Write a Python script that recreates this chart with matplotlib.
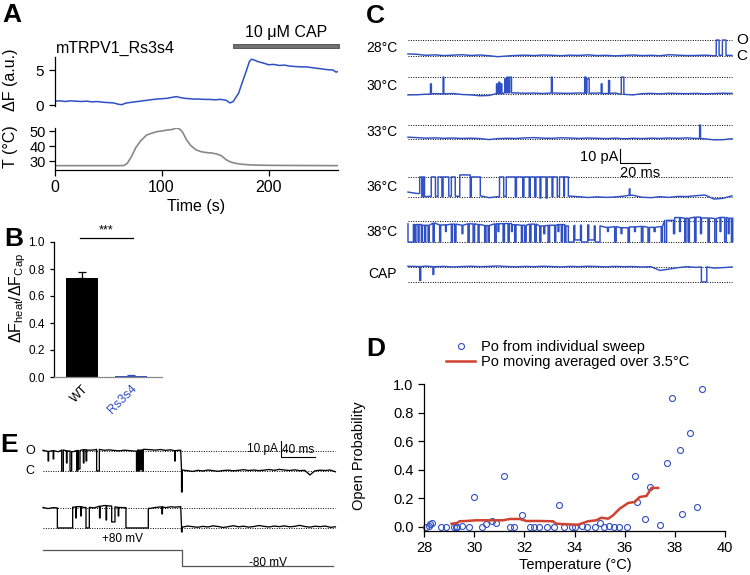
import numpy as np
import matplotlib
matplotlib.use('Agg')
import matplotlib.pyplot as plt
from matplotlib.patches import Rectangle

plt.rcParams['font.family'] = ['Liberation Sans', 'DejaVu Sans']
plt.rcParams['axes.linewidth'] = 0.9

BLUE = '#2f4fc4'
RED = '#d0412f'

# ---------------- data ----------------
# A: Ca imaging (dF) and bath temperature
t_df = [0, 5, 10, 15, 20, 25, 30, 35, 40, 45, 50, 55, 60, 63, 66, 70, 75, 80, 85, 90,
        95, 100, 105, 110, 114, 118, 122, 126, 130, 135, 140, 145, 150, 155, 160, 164,
        167, 169, 172, 176, 179, 182, 184, 187, 190, 195, 200, 205, 210, 215, 220, 225,
        230, 235, 240, 245, 250, 255, 260, 263, 265]
dF = [0.55, 0.6, 0.5, 0.6, 0.55, 0.5, 0.55, 0.45, 0.5, 0.4, 0.35, 0.3, 0.1, 0.05, 0.25,
      0.35, 0.45, 0.55, 0.65, 0.75, 0.85, 0.9, 0.95, 1.1, 1.2, 1.05, 0.95, 0.9, 0.85, 0.85,
      0.8, 0.8, 0.75, 0.8, 0.7, 0.3, 0.5, 1.0, 1.7, 3.5, 4.8, 6.2, 6.55, 6.4, 6.2, 6.0,
      5.75, 5.8, 5.65, 5.7, 5.55, 5.5, 5.45, 5.45, 5.35, 5.25, 5.15, 5.05, 5.0, 4.7, 4.8]
t_temp = [0, 60, 65, 68, 72, 76, 80, 86, 90, 95, 100, 105, 110, 114, 117, 120, 123, 127,
          132, 137, 142, 147, 152, 156, 160, 164, 168, 175, 186, 200, 230, 265]
temp = [26.9, 26.9, 27.0, 28.5, 33.0, 39.0, 43.0, 47.3, 48.3, 49.5, 50.0, 50.6, 51.0,
        52.0, 51.3, 48.8, 44.5, 40.5, 37.5, 36.2, 35.6, 35.3, 34.6, 33.5, 31.0, 29.5,
        28.6, 27.8, 27.3, 27.1, 27.0, 26.9]

# B: dF_heat / dF_cap
b_groups = ['WT', 'Rs3s4']
b_mean = [0.735, 0.008]
b_sem = [0.04, 0.004]

# C: single channel traces (pA), rows 28/30/33/36/38 C and capsaicin
c_labels = ['28°C', '30°C', '33°C', '36°C', '38°C', 'CAP']
c_amp = [11.4, 12.1, 10.0, 14.3, 15.0, 10.7]
c_rest = [0, 0, 0, 0, 1, 1]      # 0 = resting closed, 1 = resting open
wt_c = np.arange(0, 217, 6)      # baseline samples, ms
wig_28 = [1.5, 1.2, 0.5, 0.8, 0.3, 0.6, 0.9, 0.4, 0.7, 0.2, -0.5, 0.0, 0.4, 0.6, 0.3, 0.7,
          0.5, 0.2, 0.6, 0.4, 0.8, 0.3, 0.5, 0.1, 0.4, 0.7, 0.3, 0.5, 0.2, 0.9, 0.6, 0.3,
          0.4, 0.6, 0.2, 0.5, 0.4]
wig_30 = [-0.6, -0.5, -0.1, 0.3, 0.2, 0.4, -0.3, -0.6, -1.2, -1.0, 0.3, 0.9, 0.8, 0.6,
          0.7, 0.4, 0.8, 0.6, 0.5, 0.8, 0.6, 0.7, 0.4, 0.8, -0.2, -0.6, 0.3, 0.5, 0.2, 0.6,
          0.4, 0.3, 0.5, 0.2, 0.4, 0.6, 0.5]
wig_33 = [1.3, 1.0, 0.6, 0.8, 0.5, 0.7, 0.4, 0.6, 0.3, -0.4, 0.3, 0.5, 0.4, 0.8, 1.0, 0.6,
          0.5, 0.9, 0.7, 0.4, 0.7, 0.5, 0.3, 0.6, 0.2, 0.5, 0.3, 0.6, 0.4, 0.7, 0.5, 0.8,
          0.4, 0.1, -0.6, -0.5, 0.2]
wig_36 = [3.5, 2.5, 0.3, 0.5, 0.2, 0.6, 0.4, 0.0, 0.8, -0.5, 0.2, 0.5, 0.3, 0.0, 0.2,
          -0.8, 0.3, 0.5, 0.6, 0.2, -0.4, 0.1, -0.3, 0.0, 0.6, 1.2, -0.2, -0.5, 0.2, -0.3,
          0.4, 0.3, 0.9, 1.4, -1.5, -1.0, 0.8]
wig_38 = [-2.0, -2.5, -3.0, -1.5, -2.8, -2.2, -3.0, -2.0, -2.5, -3.2, -2.0, -1.8, -2.6,
          -3.0, -2.2, -3.5, -3.0, -2.5, -3.5, -3.0, -2.8, -3.5, -4.5, -4.0, -4.8, -4.2,
          -3.8, -4.5, -4.0, 0.5, 2.5, 2.0, 2.8, 2.2, 1.8, 2.6, 2.0]
wig_cap = [0.5, 0.3, 0.6, 0.2, 0.4, 0.0, 0.3, 0.5, 0.2, 0.4, 0.7, 0.3, 0.1, 0.4, 0.2, 0.5,
           0.3, 0.0, 0.4, 0.2, 0.5, 0.3, 0.1, 0.4, 0.2, 0.3, 0.0, 0.2, -2.5, -1.5, -0.5,
           0.2, -0.3, 0.0, -0.8, -0.5, 0.0]
# events: (start ms, end ms, level as fraction of unitary amplitude)
ev_28 = [(205.5, 207.4, 1.0), (209.6, 212.0, 1.0)]
ev_30 = [(15.0, 15.6, 0.6), (23.4, 23.9, 1.0), (59.0, 59.6, 0.6), (60.5, 61.2, 0.7),
         (62.0, 62.6, 0.6), (64.5, 65.3, 0.9), (66.0, 66.8, 1.0), (67.8, 69.0, 1.0),
         (95.6, 96.2, 1.0), (117.8, 118.6, 1.0), (119.3, 120.8, 0.9), (128.8, 129.4, 0.6),
         (133.7, 134.4, 0.8), (142.2, 143.9, 1.0)]
ev_33 = [(194.4, 195.0, 1.0)]
ev_36 = [(7.8, 9.2, 1.0), (10.0, 11.0, 1.0), (15.5, 18.3, 1.0), (20.0, 22.6, 1.0),
         (23.4, 27.2, 1.0), (28.9, 31.5, 1.0), (34.5, 41.5, 1.1), (42.2, 48.2, 1.0),
         (61.0, 63.8, 1.0), (65.5, 71.5, 1.0), (72.3, 76.5, 1.0), (77.3, 80.8, 1.0),
         (81.5, 84.5, 1.0), (85.3, 88.0, 1.0), (88.6, 92.0, 1.0), (92.8, 96.0, 1.0),
         (96.6, 99.5, 1.0), (101.0, 103.8, 1.0), (104.3, 106.9, 1.0), (147.5, 148.0, 0.4)]
ev_38 = [(0, 3.6, 0.0), (4.5, 5.3, 0.0), (6.7, 7.4, 0.0), (8.9, 9.6, 0.0), (11.1, 11.8, 0.0),
         (13.4, 14.2, 0.0), (16.7, 17.5, 0.0), (21.1, 21.8, 0.0), (25.0, 25.5, 0.5),
         (28.9, 29.6, 0.0), (31.1, 32.0, 0.0), (36.0, 36.6, 0.4), (40.0, 40.8, 0.0),
         (43.4, 44.4, 0.0), (46.7, 47.4, 0.0), (51.1, 52.0, 0.0), (53.4, 54.2, 0.0),
         (57.8, 58.8, 0.0), (60.0, 60.6, 0.5), (63.4, 64.3, 0.0), (66.7, 67.5, 0.0),
         (69.0, 69.5, 0.5), (71.1, 72.0, 0.0), (75.6, 76.3, 0.0), (77.8, 78.8, 0.0),
         (81.1, 82.0, 0.0), (84.5, 85.5, 0.0), (87.8, 88.6, 0.0), (90.5, 91.2, 0.4),
         (93.4, 94.4, 0.0), (97.8, 98.5, 0.0), (100.0, 100.6, 0.5), (102.2, 103.0, 0.0),
         (104.5, 105.3, 0.0), (106.9, 110.5, 0.0), (111.2, 115.0, 0.1), (115.6, 119.8, 0.0),
         (120.5, 124.2, 0.1), (124.8, 128.0, 0.0), (133.0, 133.6, 0.5), (137.8, 138.8, 0.0),
         (142.0, 142.6, 0.4), (146.7, 147.6, 0.0), (151.0, 151.6, 0.5), (155.6, 156.6, 0.0),
         (160.0, 161.0, 0.0), (164.0, 164.8, 0.5), (168.8, 169.6, 0.0), (171.1, 172.4, 0.0),
         (177.0, 177.8, 0.4), (181.0, 181.6, 0.5), (184.5, 185.3, 0.0), (186.7, 187.6, 0.0),
         (191.1, 192.0, 0.0), (195.0, 195.7, 0.4), (200.0, 200.9, 0.0), (204.5, 205.6, 0.0),
         (208.0, 208.6, 0.5), (211.1, 212.2, 0.0), (213.5, 214.1, 0.4), (215.6, 216.5, 0.0)]
ev_cap = [(7.8, 8.5, 0.1), (16.6, 17.2, 0.5), (195.6, 199.2, 0.0)]

# D: open probability vs temperature
d_temp = [28.09, 28.2, 28.25, 28.32, 28.69, 28.89, 29.18, 29.26, 29.32, 29.5, 29.8, 30.0,
          30.31, 30.49, 30.7, 30.88, 31.2, 31.42, 31.59, 31.9, 32.21, 32.4, 32.59, 32.9,
          33.2, 33.4, 33.6, 33.91, 34.02, 34.3, 34.5, 34.8, 35.0, 35.16, 35.38, 35.57,
          35.77, 36.1, 36.4, 36.5, 36.8, 37.0, 37.4, 37.7, 37.9, 38.2, 38.3, 38.6, 38.9, 39.1]
d_po = [0.0, 0.01, 0.02, 0.03, 0.0, 0.0, 0.0, 0.0, 0.0, 0.01, 0.0, 0.21, 0.0, 0.02, 0.04,
        0.03, 0.355, 0.0, 0.0, 0.086, 0.0, 0.0, 0.0, 0.0, 0.0, 0.152, 0.0, 0.0, 0.0, 0.01,
        0.0, 0.0, 0.03, 0.0, 0.01, 0.0, 0.0, 0.0, 0.355, 0.175, 0.058, 0.28, 0.014, 0.45,
        0.9, 0.54, 0.09, 0.657, 0.138, 0.965]
avg_temp = [29.1, 29.32, 29.42, 29.69, 30.09, 30.62, 31.15, 31.42, 31.82, 32.08, 32.61,
            33.14, 33.28, 33.67, 34.14, 34.34, 34.54, 34.87, 35.07, 35.34, 35.54, 35.8,
            36.14, 36.4, 36.6, 36.87, 37.07, 37.33]
avg_po = [0.023, 0.028, 0.04, 0.042, 0.047, 0.047, 0.047, 0.056, 0.056, 0.042, 0.042, 0.04,
          0.023, 0.019, 0.016, 0.028, 0.04, 0.047, 0.065, 0.058, 0.082, 0.128, 0.168, 0.175,
          0.21, 0.217, 0.273, 0.273]

# E: two sweeps, +80 mV then -80 mV
e_amp = [12.5, 12.5]
wt_e_left = np.arange(0, 163, 6)
wt_e_right = np.arange(164, 345, 6)
wig_e1_left = [0.4, -0.3, 0.2, -0.5, 0.6, 0.0, -0.4, 0.3, 0.8, 0.5, 0.6, 1.0, 0.4, 0.7,
               0.3, 0.1, 0.5, 0.2, -0.1, 0.6, 1.0, 0.8, 0.5, 0.9, 0.4, 0.7, 0.2, 0.5]
wig_e2_left = [0.3, -0.4, 0.2, 0.0, -0.3, 0.1, 0.5, 0.8, 0.3, 0.4, 0.0, 1.0, 1.5, 1.2, 0.7,
               0.3, 0.2, 0.5, 0.3, 0.2, 0.0, -0.3, 0.3, 0.6, 0.2, 0.7, 0.5, 0.8]
wig_e1_right = [0.5, 0.2, -0.3, 0.4, 0.0, 0.6, 0.2, -0.2, 0.3, 0.5, 0.1, 0.4, 0.8, 0.3, 0.6,
                0.2, 0.5, 0.9, 0.4, 1.0, 0.6, 0.3, 0.7, 0.2, 0.4, -2.5, 0.1, 0.5, 0.3, 0.6,
                -0.5]
wig_e2_right = [0.5, 1.2, 0.8, 0.4, 1.0, 0.6, 1.3, 0.9, 0.3, 0.8, 1.4, 0.7, 1.1, 0.5, 0.9,
                1.5, 1.0, 0.6, 1.2, 0.8, 1.3, 0.7, 1.0, 1.6, 0.9, 0.5, 1.1, 0.8, 1.2, 0.4,
                0.7]
ev_e1_left = [(6.0, 6.6, 0.5), (12.0, 12.6, 0.6), (22.0, 23.9, 0.0), (27.6, 28.2, 0.4),
              (31.8, 33.7, 0.0), (39.6, 40.8, 0.0), (41.6, 43.5, 0.1), (47.5, 48.2, 0.4),
              (50.6, 51.4, 0.5), (63.1, 66.3, 0.0), (110.0, 111.5, 0.0), (112.3, 113.8, 0.0),
              (114.6, 116.0, 0.1), (116.8, 118.0, 0.0), (155.0, 155.6, 0.5)]
ev_e2_left = [(16.9, 34.9, 0.0), (38.5, 39.1, 0.5), (44.5, 45.0, 0.6), (50.6, 54.5, 0.0),
              (66.5, 67.1, 0.5), (74.2, 74.8, 0.4), (80.8, 84.7, 0.3), (88.5, 89.1, 0.6),
              (97.6, 123.9, 0.0), (140.0, 140.5, 0.7)]
ev_e1_right = [(163.0, 163.8, -1.05)]
ev_e2_right = [(163.0, 163.6, -0.2)]
cmd_t = [0, 163, 163, 341]
cmd_v = [80, 80, -80, -80]


def trace(wt, wig, rest, events, closed, amp):
    wt = np.asarray(wt, float)
    pts = []
    for t, w in zip(wt, wig):
        if not any(a <= t < b for a, b, _ in events):
            pts.append((t, 1, closed + amp * rest + w))
    for a, b, lev in events:
        wa = wig[int(np.argmin(abs(wt - a)))]
        wb = wig[int(np.argmin(abs(wt - b)))]
        pts += [(a, 0, closed + amp * rest + wa), (a, 2, closed + amp * lev),
                (b, 0, closed + amp * lev), (b, 2, closed + amp * rest + wb)]
    pts.sort(key=lambda p: (p[0], p[1]))
    return [p[0] for p in pts], [p[2] for p in pts]


W, H = 750, 575
fig = plt.figure(figsize=(7.5, 5.75), dpi=100)


def box(x0, y0, x1, y1):
    return fig.add_axes([x0 / W, 1 - y1 / H, (x1 - x0) / W, (y1 - y0) / H])


def ftext(x, y, s, **kw):
    fig.text(x / W, 1 - y / H, s, **kw)


for s, x, y in [('A', 12, 15), ('B', 14, 239), ('C', 375, 16), ('D', 376, 349), ('E', 9, 445)]:
    ftext(x, y, s, fontsize=19, fontweight='bold', ha='center', va='center')

# ---------------- A ----------------
axA = box(54.5, 57, 338.2, 106)
axA.plot(t_df, dF, color=BLUE, lw=1.1)
axA.set_xlim(0, 265)
axA.set_ylim(-0.14, 6.86)
for sp in ['top', 'right', 'bottom']:
    axA.spines[sp].set_visible(False)
axA.set_xticks([])
axA.set_yticks([0, 5])
axA.tick_params(labelsize=11, length=4, width=0.9)
axA.patch.set_visible(False)
axA.add_patch(Rectangle((166.8, 8.14), 99, 0.6, facecolor='#707070', edgecolor='#333333',
                        lw=0.5, clip_on=False))
axA.text(216.4, 10.4, '10 μM CAP', fontsize=11.5, ha='center', va='center')
axA.text(1.5, 8.1, 'mTRPV1_Rs3s4', fontsize=11.5, ha='left', va='center')

axT = box(54.5, 128, 338.2, 170)
axT.plot(t_temp, temp, color='#888888', lw=1.2)
axT.set_xlim(0, 265)
axT.set_ylim(24, 52)
axT.spines['top'].set_visible(False)
axT.spines['right'].set_visible(False)
axT.set_xticks([0, 100, 200])
axT.set_yticks([30, 40, 50])
axT.tick_params(axis='x', labelsize=11.5, length=4, width=0.9)
axT.tick_params(axis='y', labelsize=10.5, length=4, width=0.9, pad=2)
axT.patch.set_visible(False)
ftext(11, 80, 'ΔF (a.u.)', fontsize=11.5, rotation=90, ha='center', va='center')
ftext(11, 147, 'T (°C)', fontsize=11.5, rotation=90, ha='center', va='center')
ftext(196, 207, 'Time (s)', fontsize=11.5, ha='center', va='center')

# ---------------- B ----------------
axB = box(54, 242, 162, 377)
b_colors = ['black', BLUE]
axB.bar([0, 1], b_mean, width=0.66, color=b_colors)
for i in range(2):
    axB.errorbar([i], [b_mean[i]], yerr=[[0], [b_sem[i]]], fmt='none', ecolor=b_colors[i],
                 elinewidth=0.9, capsize=3, capthick=0.9)
axB.set_xlim(-0.57, 1.63)
axB.set_ylim(0, 1.0)
axB.spines['top'].set_visible(False)
axB.spines['right'].set_visible(False)
axB.spines['bottom'].set_color('#888888')
axB.set_yticks([0, 0.2, 0.4, 0.6, 0.8, 1.0])
axB.set_yticklabels(['0.0', '0.2', '0.4', '0.6', '0.8', '1.0'])
axB.tick_params(axis='y', labelsize=8.5, length=3, width=0.9)
axB.set_xticks([0, 1])
axB.set_xticklabels(b_groups, rotation=45, ha='right', rotation_mode='anchor', fontsize=9)
axB.get_xticklabels()[1].set_color(BLUE)
axB.tick_params(axis='x', length=0, pad=4)
axB.plot([-0.04, 1.04], [1.03, 1.03], color='black', lw=0.9, clip_on=False)
axB.text(0.49, 1.085, '***', fontsize=9, ha='center', va='center')
ftext(18, 298, 'ΔF$_{\\mathregular{heat}}$/ΔF$_{\\mathregular{Cap}}$', fontsize=11.5,
      rotation=90, ha='center', va='center')

# ---------------- C ----------------
axC = box(355, 28, 750, 300)
axC.set_xlim(-35.33, 228)
axC.set_ylim(0, 194.3)
axC.axis('off')
c_base = [174.3, 147.1, 115.0, 73.6, 41.4, 12.9]
c_wig = [wig_28, wig_30, wig_33, wig_36, wig_38, wig_cap]
c_ev = [ev_28, ev_30, ev_33, ev_36, ev_38, ev_cap]
for i in range(6):
    base, amp = c_base[i], c_amp[i]
    axC.hlines([base, base + amp], 0, 216, colors='black', linestyles=(0, (1, 1.5)), lw=0.7,
               zorder=1)
    x, y = trace(wt_c, c_wig[i], c_rest[i], c_ev[i], base, amp)
    axC.plot(x, y, color=BLUE, lw=1.05, zorder=2)
    axC.text(-7.3, base + amp / 2, c_labels[i], fontsize=10, ha='right', va='center')
axC.text(219, c_base[0] + c_amp[0], 'O', fontsize=11, ha='left', va='center')
axC.text(219, c_base[0], 'C', fontsize=11, ha='left', va='center')
axC.plot([141.3, 141.3, 161.3], [107.9, 97.9, 97.9], color='black', lw=0.8)
axC.text(140.5, 102, '10 pA', fontsize=10.5, ha='right', va='center')
axC.text(141.3, 90.5, '20 ms', fontsize=10.5, ha='left', va='center')

# ---------------- D ----------------
axD = box(424, 384, 725, 531)
axD.plot(d_temp, d_po, 'o', mfc='none', mec=BLUE, ms=4.3, mew=0.8,
         label='Po from individual sweep', clip_on=False)
axD.plot(avg_temp, avg_po, color=RED, lw=1.8, label='Po moving averaged over 3.5°C')
axD.set_xlim(28, 40)
axD.set_ylim(-0.028, 1.0)
axD.spines['top'].set_visible(False)
axD.spines['right'].set_visible(False)
axD.set_xticks(range(28, 41, 2))
axD.set_yticks([0, 0.2, 0.4, 0.6, 0.8, 1.0])
axD.set_yticklabels(['0.0', '0.2', '0.4', '0.6', '0.8', '1.0'])
axD.tick_params(labelsize=10.5, length=4, width=0.9)
axD.patch.set_visible(False)
axD.legend(loc='upper left', bbox_to_anchor=(446 / W, 1 - 340 / H), bbox_transform=fig.transFigure,
           frameon=False, fontsize=10.5, handlelength=2.0, handletextpad=0.4, borderpad=0,
           borderaxespad=0, labelspacing=0.05)
ftext(359, 456, 'Open Probability', fontsize=10.5, rotation=90, ha='center', va='center')
ftext(575, 565, 'Temperature (°C)', fontsize=10.5, ha='center', va='center')

# ---------------- E ----------------
axE = box(0, 430, 380, 575)
axE.set_xlim(-50.6, 396.5)
axE.set_ylim(0, 90.6)
axE.axis('off')
e_base = [65.0, 29.4]
e_parts = [(wig_e1_left, ev_e1_left, wig_e1_right, ev_e1_right),
           (wig_e2_left, ev_e2_left, wig_e2_right, ev_e2_right)]
for i in range(2):
    base, amp = e_base[i], e_amp[i]
    axE.hlines([base, base + amp], 0, 343, colors='black', linestyles=(0, (1, 1.5)), lw=0.7,
               zorder=1)
    wl, el, wr, er = e_parts[i]
    x1, y1 = trace(wt_e_left, wl, 1, el, base, amp)
    x2, y2 = trace(wt_e_right, wr, 0, er, base, amp)
    axE.plot(x1 + x2, y1 + y2, color='black', lw=0.95, zorder=2)
axE.text(-15.3, e_base[0] + e_amp[0], 'O', fontsize=9, ha='center', va='center')
axE.text(-15.3, e_base[0], 'C', fontsize=9, ha='center', va='center')
axE.plot([280, 280, 320], [83.75, 73.75, 73.75], color='black', lw=0.8)
axE.text(276, 78.5, '10 pA', fontsize=8.5, ha='right', va='center')
axE.text(300, 77.8, '40 ms', fontsize=8.5, ha='center', va='center')

axV = box(0, 536, 380, 575)
axV.set_xlim(-50.6, 396.5)
axV.set_ylim(-170, 220)
axV.axis('off')
axV.plot(cmd_t, cmd_v, color='#555555', lw=0.9)
axV.text(94, 190, '+80 mV', fontsize=8.5, ha='center', va='center')
axV.text(265, -50, '-80 mV', fontsize=8.5, ha='center', va='center')

fig.savefig('out.png', dpi=100)
